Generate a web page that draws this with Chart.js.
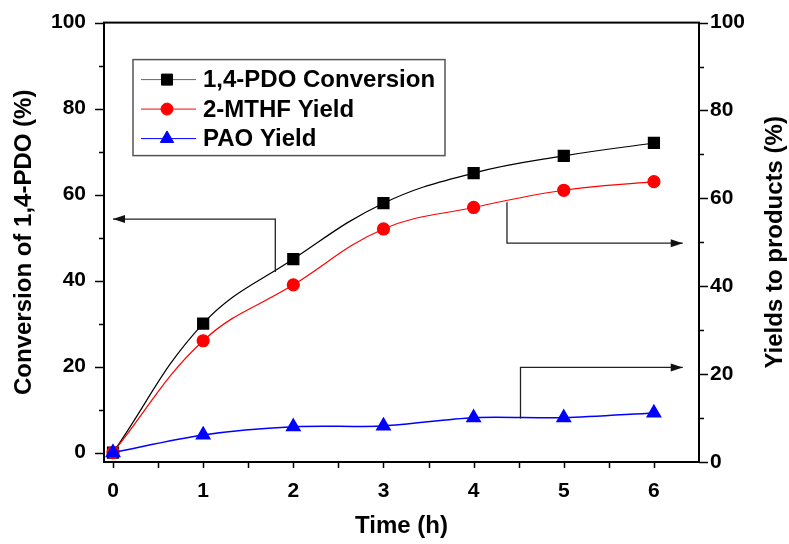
<!DOCTYPE html>
<html>
<head>
<meta charset="utf-8">
<script src="https://cdn.jsdelivr.net/npm/chart.js@4.4.0/dist/chart.umd.min.js"></script>
<style>
    html, body { margin: 0; padding: 0; background: #fff; }
    #wrap { width: 789px; height: 544px; }
</style>
</head>
<body>
<div id="wrap"><canvas id="my-chart"></canvas></div>
<script>
// values
const hours = [0, 1, 2, 3, 4, 5, 6];
const pdoConversion = [0, 30, 45, 58, 65, 69, 72];
const mthfYield = [0, 26, 39, 52, 57, 61, 63];
const paoYield = [0, 4.1, 6, 6.2, 8.1, 8.1, 9.2];

const xTicks = [0, 0.5, 1, 1.5, 2, 2.5, 3, 3.5, 4, 4.5, 5, 5.5, 6];
const yTicks = [0, 10, 20, 30, 40, 50, 60, 70, 80, 90, 100];

// annotation arrows, in (time, left-axis %) units; last point is the tip
const arrowPaths = [
    [[1.8, 42], [1.8, 54.3], [0, 54.3]],
    [[4.37, 58.2], [4.37, 48.7], [6.32, 48.7]],
    [[4.52, 7.9], [4.52, 19.8], [6.32, 19.8]]
];

const fontFamily = '"Liberation Sans", Arial, sans-serif';
const labelFont = { family: fontFamily, size: 21, weight: 'bold' };
const titleFont = { family: fontFamily, size: 24, weight: 'bold' };
const rightTitle = 'Yields to products (%)';

const toPoints = (ys) => hours.map((h, i) => ({ x: h, y: ys[i] }));

const decor = {
    id: 'decor',
    afterDraw(chart) {
        const { ctx, chartArea: a, scales } = chart;
        ctx.save();

        // frame
        ctx.strokeStyle = '#000';
        ctx.lineWidth = 2;
        ctx.strokeRect(a.left, a.top, a.right - a.left, a.bottom - a.top);

        // ticks, outward
        ctx.lineWidth = 1.5;
        ctx.beginPath();
        xTicks.forEach(v => {
            const px = Math.round(scales.x.getPixelForValue(v)) + 0.5;
            ctx.moveTo(px, a.bottom);
            ctx.lineTo(px, a.bottom + 6);
        });
        yTicks.forEach(v => {
            const len = v % 20 === 0 ? 9 : 5;
            let py = Math.round(scales.y.getPixelForValue(v)) + 0.5;
            ctx.moveTo(a.left, py);
            ctx.lineTo(a.left - len, py);
            py = Math.round(scales.y1.getPixelForValue(v)) + 0.5;
            ctx.moveTo(a.right, py);
            ctx.lineTo(a.right + len, py);
        });
        ctx.stroke();

        // arrows
        ctx.strokeStyle = '#222';
        ctx.fillStyle = '#111';
        ctx.lineWidth = 1.3;
        arrowPaths.forEach(path => {
            const pts = path.map(p => [scales.x.getPixelForValue(p[0]), scales.y.getPixelForValue(p[1])]);
            ctx.beginPath();
            pts.forEach((p, i) => i ? ctx.lineTo(p[0], p[1]) : ctx.moveTo(p[0], p[1]));
            ctx.stroke();
            const tip = pts[pts.length - 1];
            const prev = pts[pts.length - 2];
            const ang = Math.atan2(tip[1] - prev[1], tip[0] - prev[0]);
            ctx.beginPath();
            ctx.moveTo(tip[0], tip[1]);
            ctx.lineTo(tip[0] - 12 * Math.cos(ang) + 4 * Math.sin(ang), tip[1] - 12 * Math.sin(ang) - 4 * Math.cos(ang));
            ctx.lineTo(tip[0] - 12 * Math.cos(ang) - 4 * Math.sin(ang), tip[1] - 12 * Math.sin(ang) + 4 * Math.cos(ang));
            ctx.closePath();
            ctx.fill();
        });

        // right axis title, reading bottom to top
        ctx.fillStyle = '#000';
        ctx.font = 'bold 24px ' + fontFamily;
        ctx.textAlign = 'center';
        ctx.textBaseline = 'middle';
        ctx.translate(775, (a.top + a.bottom) / 2);
        ctx.rotate(-Math.PI / 2);
        ctx.fillText(rightTitle, 0, 0);
        ctx.setTransform(1, 0, 0, 1, 0, 0);

        // legend box inside the plot
        const bx = a.left + 29, by = a.top + 37, bw = 312, bh = 96;
        ctx.strokeStyle = '#555';
        ctx.lineWidth = 1.5;
        ctx.strokeRect(bx, by, bw, bh);
        ctx.font = 'bold 24px ' + fontFamily;
        ctx.textAlign = 'left';
        chart.data.datasets.forEach((ds, i) => {
            const cy = by + 20 + i * 29.5;
            ctx.strokeStyle = ds.legendLine;
            ctx.lineWidth = 1;
            ctx.beginPath();
            ctx.moveTo(bx + 8, cy);
            ctx.lineTo(bx + 63, cy);
            ctx.stroke();
            ctx.fillStyle = ds.pointBackgroundColor;
            ctx.strokeStyle = ds.pointBorderColor;
            Chart.helpers.drawPoint(ctx, { pointStyle: ds.pointStyle, radius: ds.pointRadius, rotation: 0, borderWidth: 1 }, bx + 34, cy);
            ctx.fillStyle = '#000';
            ctx.fillText(ds.label, bx + 70, cy + 1);
        });

        ctx.restore();
    }
};

new Chart(document.getElementById('my-chart').getContext('2d'), {
    type: 'line',
    data: {
        datasets: [
            {
                label: '1,4-PDO Conversion',
                data: toPoints(pdoConversion),
                borderColor: '#000',
                borderWidth: 1.2,
                legendLine: '#666',
                pointStyle: 'rect',
                pointRadius: 7.8,
                pointBackgroundColor: '#000',
                pointBorderColor: '#000',
                tension: 0.4,
                order: 2
            },
            {
                label: '2-MTHF Yield',
                data: toPoints(mthfYield),
                borderColor: '#ff0000',
                borderWidth: 1.2,
                legendLine: '#ff0000',
                pointStyle: 'circle',
                pointRadius: 6,
                pointBackgroundColor: '#ff0000',
                pointBorderColor: '#ff0000',
                tension: 0.4,
                order: 1
            },
            {
                label: 'PAO Yield',
                data: toPoints(paoYield),
                borderColor: '#0000ff',
                borderWidth: 1.5,
                legendLine: '#0000ff',
                pointStyle: 'triangle',
                pointRadius: 7.7,
                pointBackgroundColor: '#0000ff',
                pointBorderColor: '#0000ff',
                tension: 0.3,
                order: 0
            }
        ]
    },
    options: {
        responsive: true,
        maintainAspectRatio: false,
        animation: false,
        layout: { padding: { top: 17, right: 0, bottom: 0, left: 0 } },
        plugins: {
            legend: { display: false },
            tooltip: { enabled: false }
        },
        scales: {
            x: {
                type: 'linear',
                min: -0.1,
                max: 6.5,
                afterBuildTicks: s => { s.ticks = xTicks.map(v => ({ value: v })); },
                afterFit: s => { s.height = 82; },
                grid: { display: false },
                border: { display: false },
                ticks: {
                    autoSkip: false,
                    maxRotation: 0,
                    padding: 9,
                    color: '#000',
                    font: labelFont,
                    callback: v => Number.isInteger(v) ? v : ''
                },
                title: { display: true, text: 'Time (h)', color: '#000', font: titleFont, padding: { top: 0, bottom: 3 } }
            },
            y: {
                position: 'left',
                min: -2.2,
                max: 100,
                afterBuildTicks: s => { s.ticks = yTicks.map(v => ({ value: v })); },
                afterFit: s => { s.width = 104; },
                grid: { display: false },
                border: { display: false },
                ticks: {
                    autoSkip: false,
                    padding: 10,
                    color: '#000',
                    font: labelFont,
                    callback: v => v % 20 === 0 ? v : ''
                },
                title: { display: true, text: 'Conversion of 1,4-PDO (%)', color: '#000', font: titleFont, padding: { top: 10, bottom: 0 } }
            },
            y1: {
                position: 'right',
                min: 0,
                max: 100,
                afterBuildTicks: s => { s.ticks = yTicks.map(v => ({ value: v })); },
                afterFit: s => { s.width = 90; },
                grid: { display: false },
                border: { display: false },
                ticks: {
                    autoSkip: false,
                    padding: 3,
                    color: '#000',
                    font: labelFont,
                    callback: v => v % 20 === 0 ? v : ''
                }
            }
        }
    },
    plugins: [decor]
});
</script>
</body>
</html>
